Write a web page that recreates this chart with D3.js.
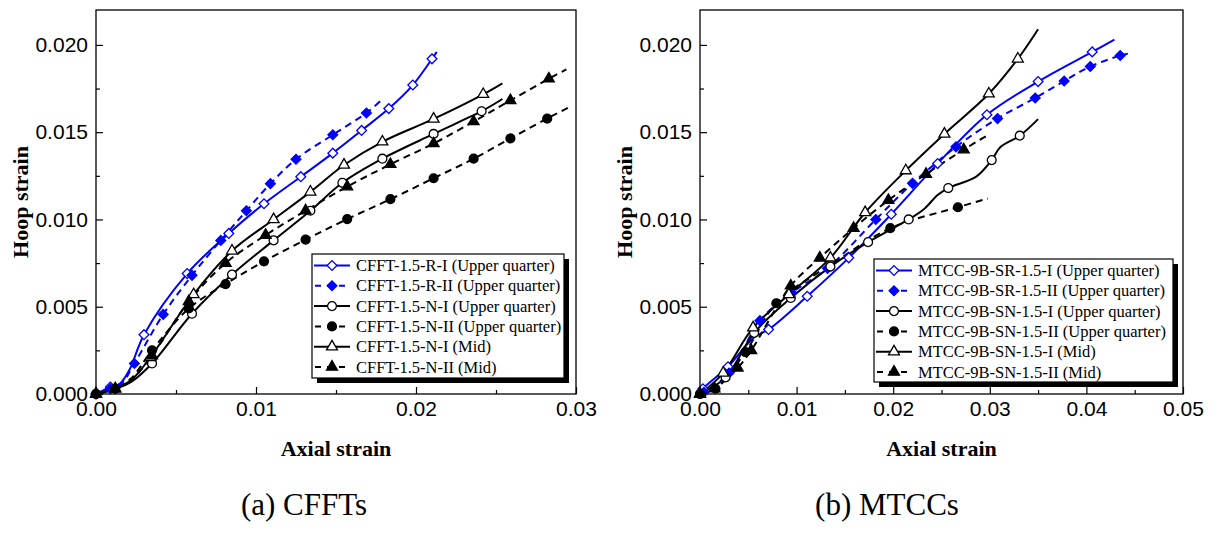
<!DOCTYPE html>
<html>
<head>
<meta charset="utf-8">
<script src="https://cdn.jsdelivr.net/npm/d3@7"></script>
<style>
  body { margin: 0; background: #fff; }
  svg { display: block; }
  .tick text { font-family: "Liberation Sans", Arial, sans-serif; font-size: 21px; fill: #000; }
  .axis-title { font-family: "Liberation Serif", "Times New Roman", serif; font-size: 22px; font-weight: bold; }
  .caption { font-family: "Liberation Serif", "Times New Roman", serif; font-size: 31px; }
  .legend-text { font-family: "Liberation Serif", "Times New Roman", serif; font-size: 16.5px; }
</style>
</head>
<body>
<div id="chart"></div>
<script>
// tick values
var xTicksA = [0, 0.01, 0.02, 0.03];
var xTicksB = [0, 0.01, 0.02, 0.03, 0.04, 0.05];
var yTicks = [0, 0.005, 0.010, 0.015, 0.020];

// [axial, hoop, marker?]  (a) CFFTs
var cfftRI = [[0,0,1],[0.0009,0.0004,1],[0.0015,0.0006,0],[0.0021,0.0014,0],[0.0030,0.0034,1],[0.0057,0.0069,1],[0.0083,0.0092,1],[0.0105,0.0109,1],[0.0128,0.01245,1],[0.0148,0.0138,1],[0.0166,0.0151,1],[0.0183,0.01635,1],[0.0198,0.0177,1],[0.0210,0.0192,1],[0.0213,0.0196,0]];
var cfftRII = [[0,0,1],[0.0009,0.0003,1],[0.0016,0.0006,0],[0.0024,0.00175,1],[0.0042,0.00456,1],[0.0060,0.0068,1],[0.0078,0.0088,1],[0.0094,0.0105,1],[0.0109,0.01205,1],[0.0125,0.01345,1],[0.0148,0.01485,1],[0.0169,0.0161,1],[0.0178,0.0168,0]];
var cfftNI = [[0,0,1],[0.0012,0.0003,1],[0.0022,0.0007,0],[0.0035,0.00175,1],[0.0060,0.0046,1],[0.0085,0.00684,1],[0.0111,0.0088,1],[0.0134,0.0105,1],[0.0154,0.0121,1],[0.0179,0.01348,1],[0.0211,0.0149,1],[0.0241,0.0162,1],[0.0254,0.0169,0]];
var cfftNII = [[0,0,1],[0.0012,0.0003,1],[0.0022,0.0009,0],[0.0035,0.0025,1],[0.0058,0.0049,1],[0.0081,0.0063,1],[0.0105,0.0076,1],[0.0131,0.00884,1],[0.0157,0.01002,1],[0.0184,0.01116,1],[0.0211,0.01236,1],[0.0236,0.01348,1],[0.0259,0.01464,1],[0.0282,0.01578,1],[0.0295,0.0164,0]];
var cfftNIMid = [[0,0,1],[0.0012,0.0003,1],[0.0022,0.0008,0],[0.0034,0.0021,1],[0.0061,0.0057,1],[0.0085,0.0082,1],[0.0111,0.0100,1],[0.0134,0.01158,1],[0.0155,0.01312,1],[0.0179,0.01445,1],[0.0211,0.01576,1],[0.0242,0.01717,1],[0.0254,0.0178,0]];
var cfftNIIMid = [[0,0,1],[0.0012,0.0003,1],[0.0022,0.0008,0],[0.0035,0.0022,1],[0.0058,0.0053,1],[0.0081,0.0075,1],[0.0106,0.0091,1],[0.0131,0.0105,1],[0.0157,0.01188,1],[0.0184,0.01316,1],[0.0211,0.01435,1],[0.0236,0.01561,1],[0.0259,0.01682,1],[0.0283,0.01806,1],[0.0294,0.0186,0]];

// (b) MTCCs
var mtccSRI = [[0,0,0],[0.0003,0.0003,1],[0.0029,0.00156,1],[0.0045,0.0026,0],[0.0057,0.0033,0],[0.0071,0.0037,1],[0.0111,0.0056,1],[0.0154,0.0078,1],[0.0198,0.0103,1],[0.0246,0.0132,1],[0.0297,0.0160,1],[0.0350,0.0179,1],[0.0406,0.0196,1],[0.0429,0.0203,0]];
var mtccSRII = [[0,0,0],[0.0004,0.0001,1],[0.0030,0.0012,1],[0.0062,0.0042,1],[0.0095,0.0058,1],[0.0132,0.0072,1],[0.0182,0.0100,1],[0.0220,0.01207,1],[0.0265,0.01416,1],[0.0308,0.01578,1],[0.0347,0.01696,1],[0.0377,0.01793,1],[0.0404,0.01876,1],[0.0435,0.01939,1],[0.0443,0.0195,0]];
var mtccSNI = [[0,0,1],[0.00265,0.00095,1],[0.0056,0.0035,1],[0.0094,0.0055,1],[0.0135,0.0073,1],[0.0174,0.0087,1],[0.0216,0.0100,1],[0.0232,0.0106,0],[0.0246,0.0114,0],[0.0257,0.0118,1],[0.0286,0.01245,0],[0.0302,0.0134,1],[0.0311,0.01415,0],[0.0331,0.0148,1],[0.0350,0.01575,0]];
var mtccSNII = [[0,0,1],[0.0016,0.0003,1],[0.0047,0.0024,1],[0.0079,0.0052,1],[0.0138,0.0075,0],[0.0197,0.0095,1],[0.0267,0.0107,1],[0.0298,0.0112,0]];
var mtccSNIMid = [[0,0,1],[0.0024,0.0012,1],[0.0055,0.0038,1],[0.0092,0.0057,1],[0.0135,0.0078,1],[0.0171,0.0104,1],[0.0213,0.0128,1],[0.0253,0.0149,1],[0.0299,0.0172,1],[0.0329,0.0192,1],[0.0350,0.0209,0]];
var mtccSNIIMid = [[0,0,1],[0.0015,0.0003,1],[0.0039,0.0015,1],[0.0053,0.0025,1],[0.0094,0.0062,1],[0.0124,0.0078,1],[0.0159,0.0095,1],[0.0195,0.0111,1],[0.0234,0.0126,1],[0.0273,0.0140,1],[0.0300,0.0149,0]];

var namesA = ["CFFT-1.5-R-I (Upper quarter)", "CFFT-1.5-R-II (Upper quarter)", "CFFT-1.5-N-I (Upper quarter)",
  "CFFT-1.5-N-II (Upper quarter)", "CFFT-1.5-N-I (Mid)", "CFFT-1.5-N-II (Mid)"];
var namesB = ["MTCC-9B-SR-1.5-I (Upper quarter)", "MTCC-9B-SR-1.5-II (Upper quarter)", "MTCC-9B-SN-1.5-I (Upper quarter)",
  "MTCC-9B-SN-1.5-II (Upper quarter)", "MTCC-9B-SN-1.5-I (Mid)", "MTCC-9B-SN-1.5-II (Mid)"];

var BLUE = "#0000ff";
// style for the six series, same order in both panels
var styles = [
  {color: BLUE, dash: null, shape: "diamond", open: true},
  {color: BLUE, dash: "7,5", shape: "diamond", open: false},
  {color: "#000", dash: null, shape: "circle", open: true},
  {color: "#000", dash: "7,5", shape: "circle", open: false},
  {color: "#000", dash: null, shape: "triangle", open: true},
  {color: "#000", dash: "7,5", shape: "triangle", open: false}
];

var W = 1215, H = 538;
var svg = d3.select("#chart").append("svg").attr("width", W).attr("height", H);
svg.append("rect").attr("width", W).attr("height", H).attr("fill", "#fff");

function symbolPath(shape) {
  if (shape === "diamond") return d3.symbol().type(d3.symbolSquare).size(48)();
  if (shape === "circle") return d3.symbol().type(d3.symbolCircle).size(62)();
  return d3.symbol().type(d3.symbolTriangle).size(52)();
}

function drawMarker(g, st, x, y) {
  var p = g.append("path")
    .attr("d", symbolPath(st.shape))
    .attr("transform", "translate(" + x + "," + y + ")" + (st.shape === "diamond" ? " rotate(45)" : ""))
    .attr("fill", st.open ? "#fff" : st.color)
    .attr("stroke", st.color)
    .attr("stroke-width", 1.3);
  return p;
}

function drawPanel(conf) {
  var g = svg.append("g");
  var x = d3.scaleLinear().domain([0, conf.xMax]).range([conf.left, conf.right]);
  var y = d3.scaleLinear().domain([0, 0.022]).range([conf.bottom, conf.top]);

  // minor ticks
  var xMinor = d3.range(0.005, conf.xMax, 0.01);
  var yMinor = d3.range(0.0025, 0.022, 0.005);
  g.append("g").attr("transform", "translate(0," + conf.bottom + ")")
    .call(d3.axisBottom(x).tickValues(xMinor).tickSize(-4).tickFormat(""))
    .call(function (a) { a.select(".domain").remove(); });
  g.append("g").attr("transform", "translate(" + conf.left + ",0)")
    .call(d3.axisLeft(y).tickValues(yMinor).tickSize(-4).tickFormat(""))
    .call(function (a) { a.select(".domain").remove(); });

  // major ticks
  g.append("g").attr("transform", "translate(0," + conf.bottom + ")")
    .call(d3.axisBottom(x).tickValues(conf.xTicks).tickSize(-7).tickPadding(7).tickFormat(d3.format(".2f")))
    .call(function (a) { a.select(".domain").remove(); });
  g.append("g").attr("transform", "translate(" + conf.left + ",0)")
    .call(d3.axisLeft(y).tickValues(yTicks).tickSize(-7).tickPadding(8).tickFormat(d3.format(".3f")))
    .call(function (a) { a.select(".domain").remove(); });
  g.selectAll(".tick line").attr("stroke", "#000").attr("stroke-width", 1.2);

  // series
  var line = d3.line()
    .x(function (d) { return x(d[0]); })
    .y(function (d) { return y(d[1]); })
    .curve(d3.curveCatmullRom.alpha(0.5));

  conf.series.forEach(function (s, i) {
    var st = styles[i];
    g.append("path")
      .datum(s)
      .attr("d", line)
      .attr("fill", "none")
      .attr("stroke", st.color)
      .attr("stroke-width", 2)
      .attr("stroke-dasharray", st.dash);
  });
  conf.series.forEach(function (s, i) {
    var st = styles[i];
    s.filter(function (d) { return d[2]; }).forEach(function (d) {
      drawMarker(g, st, x(d[0]), y(d[1]));
    });
  });

  // frame
  g.append("rect")
    .attr("x", conf.left).attr("y", conf.top)
    .attr("width", conf.right - conf.left).attr("height", conf.bottom - conf.top)
    .attr("fill", "none").attr("stroke", "#000").attr("stroke-width", 1.3);

  // legend
  var lg = conf.legend;
  g.append("rect").attr("x", lg.x + 5).attr("y", lg.y + 5).attr("width", lg.w).attr("height", lg.h).attr("fill", "#000");
  g.append("rect").attr("x", lg.x).attr("y", lg.y).attr("width", lg.w).attr("height", lg.h)
    .attr("fill", "#fff").attr("stroke", "#000").attr("stroke-width", 1.2);
  conf.names.forEach(function (name, i) {
    var st = styles[i];
    var ry = lg.y + 11.5 + i * 20.3;
    g.append("line")
      .attr("x1", lg.x + 2).attr("x2", lg.x + 38).attr("y1", ry).attr("y2", ry)
      .attr("stroke", st.color).attr("stroke-width", 2)
      .attr("stroke-dasharray", st.dash ? "6,6" : null)
      .attr("stroke-dashoffset", st.dash ? -1 : null);
    drawMarker(g, st, lg.x + 20, ry);
    g.append("text").attr("class", "legend-text")
      .attr("x", lg.x + 44).attr("y", ry + 5.5)
      .text(name);
  });

  // titles
  g.append("text").attr("class", "axis-title")
    .attr("x", (conf.left + conf.right) / 2).attr("y", 456)
    .attr("text-anchor", "middle").text("Axial strain");
  g.append("text").attr("class", "axis-title")
    .attr("transform", "translate(" + (conf.left - 68) + "," + ((conf.top + conf.bottom) / 2) + ") rotate(-90)")
    .attr("text-anchor", "middle").text("Hoop strain");
  g.append("text").attr("class", "caption")
    .attr("x", conf.captionX).attr("y", 515)
    .attr("text-anchor", "middle").text(conf.caption);
}

drawPanel({
  left: 96, right: 576, top: 10, bottom: 394, xMax: 0.03, xTicks: xTicksA,
  series: [cfftRI, cfftRII, cfftNI, cfftNII, cfftNIMid, cfftNIIMid],
  names: namesA,
  legend: {x: 312, y: 254, w: 252, h: 124},
  caption: "(a) CFFTs", captionX: 304
});
drawPanel({
  left: 700, right: 1183, top: 10, bottom: 394, xMax: 0.05, xTicks: xTicksB,
  series: [mtccSRI, mtccSRII, mtccSNI, mtccSNII, mtccSNIMid, mtccSNIIMid],
  names: namesB,
  legend: {x: 874, y: 259, w: 299, h: 123},
  caption: "(b) MTCCs", captionX: 887
});
</script>
</body>
</html>
